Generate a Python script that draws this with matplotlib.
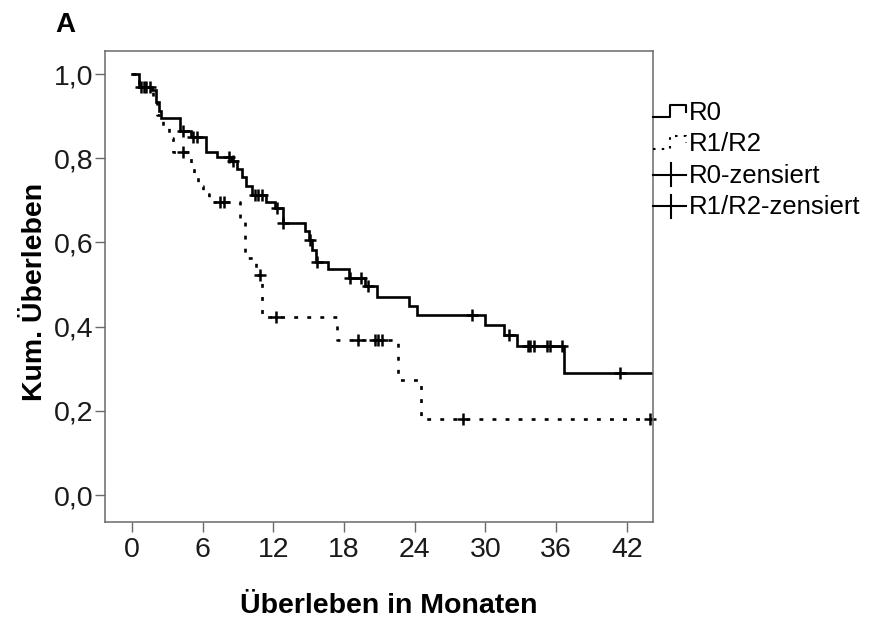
import matplotlib
matplotlib.use("Agg")
import matplotlib.pyplot as plt
from matplotlib.lines import Line2D
from matplotlib.legend_handler import HandlerBase
import numpy as np

plt.rcParams['font.family'] = ['Liberation Sans', 'DejaVu Sans']
plt.rcParams['lines.scale_dashes'] = False

# ---- data ----
r0_times = [0, 0.6, 1.7, 2.0, 2.3, 2.5, 4.1, 5.0, 6.3, 7.2, 8.4, 8.9, 9.3, 9.7, 10.2,
            11.4, 12.1, 12.8, 14.7, 15.0, 15.3, 15.6, 16.6, 18.4, 19.8, 20.8, 23.5,
            24.2, 30.0, 31.6, 32.7, 36.7]
r0_surv = [1.0, 0.970, 0.963, 0.933, 0.913, 0.895, 0.864, 0.851, 0.814, 0.804, 0.794,
           0.775, 0.755, 0.735, 0.712, 0.695, 0.681, 0.646, 0.626, 0.606, 0.581, 0.554,
           0.537, 0.515, 0.496, 0.471, 0.448, 0.428, 0.404, 0.380, 0.353, 0.291]
r0_censored = [0.8, 1.2, 1.5, 4.3, 5.2, 5.5, 8.2, 8.6, 10.4, 10.7, 11.0, 12.3, 12.8,
               15.1, 15.7, 18.5, 19.4, 20.0, 28.9, 32.0, 33.6, 33.8, 34.1, 35.2, 35.5,
               36.5, 41.4]
r0_end = 44.3

r12_times = [0, 0.6, 1.8, 2.1, 2.6, 3.1, 3.5, 5.0, 5.3, 5.6, 6.0, 6.5, 9.2, 9.6, 10.5,
             11.0, 17.4, 22.6, 24.5]
r12_surv = [1.0, 0.968, 0.933, 0.903, 0.874, 0.849, 0.814, 0.780, 0.755, 0.735, 0.715,
            0.695, 0.653, 0.563, 0.522, 0.424, 0.368, 0.273, 0.180]
r12_censored = [1.0, 4.3, 7.5, 7.8, 10.9, 12.2, 19.2, 20.6, 20.9, 21.2, 28.1, 44.0]
r12_end = 44.0

x_ticks = [0, 6, 12, 18, 24, 30, 36, 42]
y_ticks = [0.0, 0.2, 0.4, 0.6, 0.8, 1.0]
y_ticklabels = ["0,0", "0,2", "0,4", "0,6", "0,8", "1,0"]
legend_labels = ["R0", "R1/R2", "R0-zensiert", "R1/R2-zensiert"]

LW = 1.9
DOT = (0, (2.8, 6.6))
SPINE = '#6a6a6a'


def step_level(times, surv, t):
    idx = np.searchsorted(np.asarray(times), t, side='right') - 1
    return np.asarray(surv)[idx]


fig = plt.figure(figsize=(8.71, 6.23), dpi=100)
ax = fig.add_axes([0.1206, 0.1621, 0.6292, 0.7560])

# R0
ax.step(list(r0_times) + [r0_end], list(r0_surv) + [r0_surv[-1]], where='post',
        color='black', lw=LW, solid_joinstyle='miter')
ax.plot(r0_censored, step_level(r0_times, r0_surv, r0_censored), ls='none',
        marker='+', ms=9, mew=1.8, color='black', clip_on=False)
# R1/R2
ax.step(list(r12_times) + [r12_end], list(r12_surv) + [r12_surv[-1]], where='post',
        color='black', lw=LW, ls=DOT)
ax.plot(r12_censored, step_level(r12_times, r12_surv, r12_censored), ls='none',
        marker='+', ms=9, mew=1.8, color='black', clip_on=False)

ax.set_xlim(-2.29, 44.23)
ax.set_ylim(-0.064, 1.0546)
ax.set_xticks(x_ticks)
ax.set_xticklabels([str(v) for v in x_ticks])
ax.set_yticks(y_ticks)
ax.set_yticklabels(y_ticklabels)
ax.tick_params(direction='out', length=7, width=1.0, color=SPINE, labelsize=20.5,
               labelcolor='#1a1a1a', pad=1.5)
ax.tick_params(axis='x', pad=3.5)
for s in ax.spines.values():
    s.set_color(SPINE)
    s.set_linewidth(1.1)

ax.set_xlabel("Überleben in Monaten", fontsize=20.5, fontweight='bold')
ax.set_ylabel("Kum. Überleben", fontsize=20.5, fontweight='bold')
ax.xaxis.label.set_va('center')
ax.xaxis.set_label_coords(0.518, -0.178)
ax.yaxis.label.set_va('center')
ax.yaxis.set_label_coords(-0.128, 0.488)

fig.text(65 / 871, 1 - 25 / 623, "A", fontsize=20, fontweight='bold', ha='center', va='center')


class StepHandler(HandlerBase):
    def __init__(self, ls):
        super().__init__()
        self.ls = ls

    def create_artists(self, legend, orig_handle, xdescent, ydescent, width, height,
                       fontsize, trans):
        x0 = -xdescent
        y0 = -ydescent
        xs = [x0, x0 + 0.5 * width, x0 + 0.5 * width, x0 + width, x0 + width]
        ys = [y0 + 0.15 * height, y0 + 0.15 * height, y0 + 0.85 * height,
              y0 + 0.85 * height, y0 + 0.45 * height]
        ln = Line2D(xs, ys, color='black', lw=1.5, ls=self.ls, transform=trans)
        return [ln]


class CensorHandler(HandlerBase):
    def create_artists(self, legend, orig_handle, xdescent, ydescent, width, height,
                       fontsize, trans):
        x0 = -xdescent
        y0 = -ydescent
        h = Line2D([x0, x0 + width], [y0 + 0.45 * height] * 2, color='black', lw=1.5,
                   transform=trans)
        v = Line2D([x0 + 0.55 * width] * 2, [y0 - 0.2 * height, y0 + 1.1 * height],
                   color='black', lw=1.5, transform=trans)
        return [h, v]


handles = [Line2D([], [], color='k'), Line2D([], [], color='k', ls=':'),
           Line2D([], [], color='k', marker='+'), Line2D([], [], color='k', marker='x')]
hmap = {handles[0]: StepHandler('-'), handles[1]: StepHandler((0, (1.8, 4.5))),
        handles[2]: CensorHandler(), handles[3]: CensorHandler()}
ax.legend(handles, legend_labels, handler_map=hmap, loc='upper left',
          bbox_to_anchor=(1.0, 0.894), frameon=False, fontsize=18.5,
          handlelength=1.3, handletextpad=0.1, borderpad=0, borderaxespad=0,
          labelspacing=0.29)

fig.savefig("out.png", dpi=100)
